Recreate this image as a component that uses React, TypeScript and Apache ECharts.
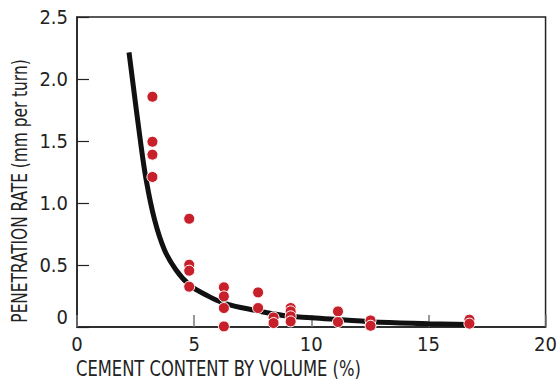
import React, { useEffect, useRef } from "react";
import * as echarts from "echarts";

const FONT = "'DejaVu Sans Condensed', 'Liberation Sans Narrow', sans-serif";

// Measured points: cement content (%) and penetration rate (mm per turn)
const pointX = [
  3.22, 3.22, 3.22, 3.22,
  4.79, 4.79, 4.79, 4.79,
  6.27, 6.27, 6.27, 6.27,
  7.73, 7.73,
  8.39, 8.39,
  9.12, 9.12, 9.12, 9.12,
  11.14, 11.14,
  12.53, 12.53,
  16.75, 16.75,
];
const pointY = [
  1.857, 1.494, 1.39, 1.21,
  0.873, 0.502, 0.454, 0.325,
  0.32, 0.247, 0.153, 0.005,
  0.279, 0.153,
  0.077, 0.032,
  0.153, 0.126, 0.086, 0.045,
  0.126, 0.04,
  0.053, 0.01,
  0.059, 0.027,
];

// Fitted curve
const curveX = [2.22, 2.7, 2.95, 3.31, 3.73, 4.22, 4.79, 5.49, 6.27, 7.61, 8.88, 10, 12.5, 15, 16.7];
const curveY = [2.215, 1.51, 1.19, 0.865, 0.623, 0.462, 0.341, 0.26, 0.193, 0.134, 0.091, 0.075, 0.043, 0.027, 0.02];

const xTicks = [0, 5, 10, 15, 20];
const yTicks = [0, 0.5, 1.0, 1.5, 2.0, 2.5];

const xTitle = "CEMENT CONTENT BY VOLUME (%)";
const yTitle = "PENETRATION RATE (mm per turn)";

export default function App() {
  const ref = useRef<HTMLDivElement>(null);
  useEffect(() => {
    if (!ref.current) return;
    const chart = echarts.init(ref.current, undefined, { renderer: "svg" });
    const textColor = "#222";
    chart.setOption({
      animation: false,
      backgroundColor: "#fff",
      grid: { left: 77, right: 8, top: 17, bottom: 58, show: true, borderColor: "#222", borderWidth: 1.5, containLabel: false },
      xAxis: {
        type: "value",
        min: xTicks[0],
        max: xTicks[xTicks.length - 1],
        interval: 5,
        axisLine: { show: true, lineStyle: { color: "#222", width: 1.5 } },
        axisTick: { show: true, inside: true, length: 12, lineStyle: { color: "#777", width: 1.5 } },
        splitLine: { show: false },
        axisLabel: { color: textColor, fontFamily: FONT, fontSize: 20, margin: 7 },
      },
      yAxis: {
        type: "value",
        min: yTicks[0],
        max: yTicks[yTicks.length - 1],
        interval: 0.5,
        axisLine: { show: true, lineStyle: { color: "#222", width: 1.5 } },
        axisTick: { show: true, inside: true, length: 12, lineStyle: { color: "#222", width: 1.2 } },
        splitLine: { show: false },
        axisLabel: {
          color: textColor,
          fontFamily: FONT,
          fontSize: 20,
          margin: 9,
          formatter: (v: number) => (v === 0 ? "{z|0}" : v.toFixed(1)),
          rich: {
            z: { color: textColor, fontFamily: FONT, fontSize: 20, padding: [0, 0, 20, 0] },
          },
        },
      },
      graphic: [
        {
          type: "text",
          x: 76,
          y: 369,
          scaleX: 0.865,
          style: { text: xTitle, fill: textColor, font: `21px ${FONT}`, verticalAlign: "middle" },
        },
        {
          type: "text",
          x: 9,
          y: 191,
          rotation: Math.PI / 2,
          scaleX: 0.815,
          style: { text: yTitle, fill: textColor, font: `21px ${FONT}`, align: "center", verticalAlign: "top" },
        },
      ],
      series: [
        {
          type: "line",
          data: curveX.map((x, i) => [x, curveY[i]]),
          smooth: 0.4,
          showSymbol: false,
          symbol: "none",
          lineStyle: { color: "#111", width: 5 },
          z: 2,
        },
        {
          type: "scatter",
          data: pointX.map((x, i) => [x, pointY[i]]),
          symbolSize: 11,
          itemStyle: { color: "#c8202a", borderColor: "#fff", borderWidth: 1, opacity: 1 },
          z: 3,
        },
      ],
    });
    return () => chart.dispose();
  }, []);
  return <div ref={ref} style={{ position: "fixed", left: 0, top: 0, width: 560, height: 385 }} />;
}
